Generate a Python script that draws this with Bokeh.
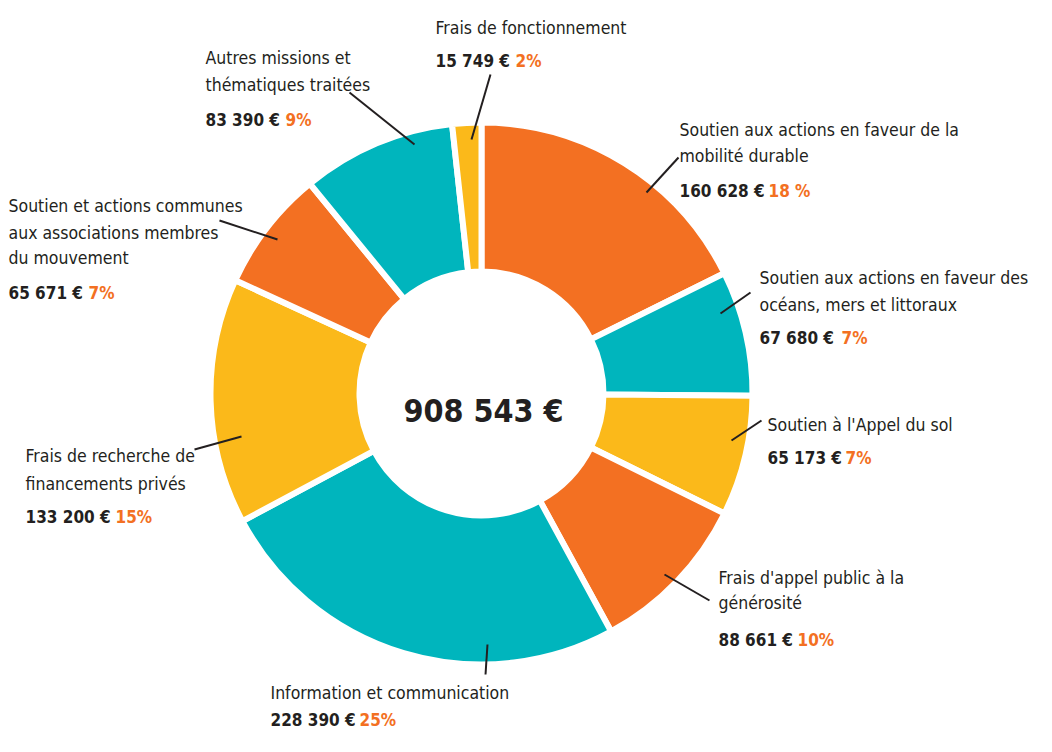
from bokeh.plotting import figure
from bokeh.models import Range1d, ColumnDataSource
from bokeh.core.properties import value
from bokeh.embed import file_html
from bokeh.resources import INLINE
import math

# ---- data (clockwise from 12 o'clock) ----
labels = [
    ["Soutien aux actions en faveur de la", "mobilité durable"],
    ["Soutien aux actions en faveur des", "océans, mers et littoraux"],
    ["Soutien à l'Appel du sol"],
    ["Frais d'appel public à la", "générosité"],
    ["Information et communication"],
    ["Frais de recherche de", "financements privés"],
    ["Soutien et actions communes", "aux associations membres", "du mouvement"],
    ["Autres missions et", "thématiques traitées"],
    ["Frais de fonctionnement"],
]
values = [160628, 67680, 65173, 88661, 228390, 133200, 65671, 83390, 15749]
pct_labels = ["18 %", "7%", "7%", "10%", "25%", "15%", "7%", "9%", "2%"]
colors = ["#F37022", "#00B5BD", "#FBB91A", "#F37022", "#00B5BD",
          "#FBB91A", "#F37022", "#00B5BD", "#FBB91A"]
TOTAL = 908543

# ---- layout (image pixel coords: x, baseline y) ----
CX, CY = 489, 401
R_OUT, R_IN = 268, 125
GAP = 6
label_pos = [
    (687, [137, 163], 198, 776),
    (767, [285, 312], 345, 849),
    (775, [432], 465, 853),
    (726, [585, 610], 647, 805),
    (278, [700], 727, 367),
    (33, [463, 491], 524, 123),
    (16, [213, 240, 265], 300, 96),
    (213, [65, 92], 127, 293),
    (443, [35], 68, 523),
]
leaders = [
    ((686, 165), (654, 200)),
    ((758, 300), (728, 321)),
    ((769, 428), (739, 448)),
    ((717, 608), (672, 582)),
    ((495, 652), (493, 682)),
    ((202, 457), (249, 444)),
    ((227, 228), (285, 247)),
    ((357, 100), (422, 152)),
    ((498, 82), (479, 147)),
]

FONT = value("DejaVu Sans Condensed, Liberation Sans Narrow, Roboto")
DARK = "#231F20"
ORANGE = "#F37022"

W, H = 1036, 736
p = figure(width=W, height=H, x_range=Range1d(8, 8 + W), y_range=Range1d(8, 8 + H),
           output_backend="svg", toolbar_location=None, min_border=0)
p.axis.visible = False
p.grid.visible = False
p.outline_line_color = None
p.background_fill_color = "white"

def fy(y):
    return 752 - y

# wedges
tot = sum(values)
starts, ends = [], []
cum = 0
for v in values:
    starts.append(math.pi / 2 - 2 * math.pi * cum / tot)
    cum += v
    ends.append(math.pi / 2 - 2 * math.pi * cum / tot)
src = ColumnDataSource(dict(start=starts, end=ends, color=colors))
p.annular_wedge(x=CX, y=fy(CY), inner_radius=R_IN - GAP / 2, outer_radius=R_OUT + GAP / 2,
                start_angle="start", end_angle="end", direction="clock",
                fill_color="color", line_color="white", line_width=GAP, source=src)

# leader lines
for (a, b) in leaders:
    p.line([a[0], b[0]], [fy(a[1]), fy(b[1])], line_color=DARK, line_width=2)

# labels
for lines, v, pc, (lx, bls, vb, px) in zip(labels, values, pct_labels, label_pos):
    for t, b in zip(lines, bls):
        p.text(x=[lx], y=[fy(b)], text=[t], text_font=FONT, text_font_size="17.5px",
               text_color=DARK, text_baseline="alphabetic", text_align="left")
    vs = f"{v:,}".replace(",", " ") + " €"
    p.text(x=[lx], y=[fy(vb)], text=[vs], text_font=FONT, text_font_size="17px",
           text_font_style="bold", text_color=DARK, text_baseline="alphabetic")
    p.text(x=[px], y=[fy(vb)], text=[pc], text_font=FONT, text_font_size="17px",
           text_font_style="bold", text_color=ORANGE, text_baseline="alphabetic")

tot_s = f"{TOTAL:,}".replace(",", " ") + " €"
p.text(x=[CX + 2], y=[fy(418)], text=[tot_s], text_font=FONT, text_font_size="32px",
       text_font_style="bold", text_color=DARK, text_baseline="alphabetic", text_align="center")

open("out.html", "w").write(file_html(p, INLINE))
